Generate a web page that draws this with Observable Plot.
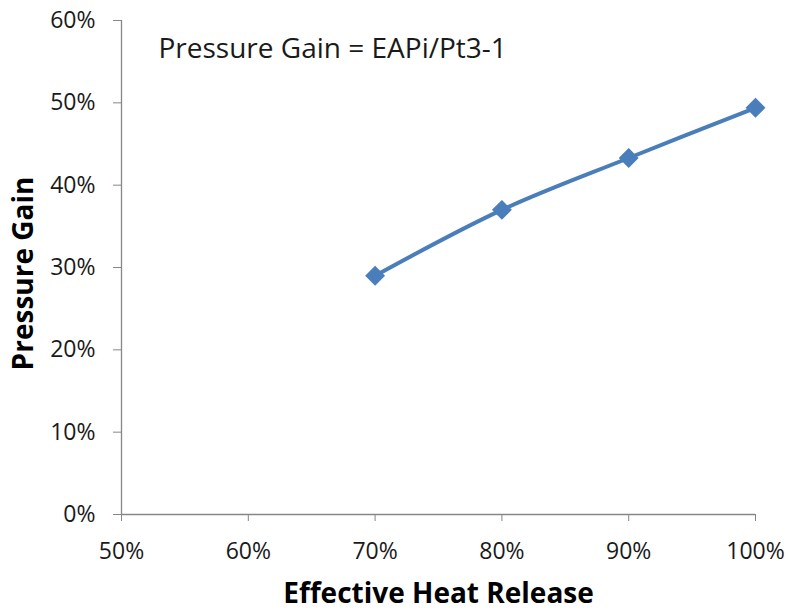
<!DOCTYPE html>
<html>
<head>
<meta charset="utf-8">
<script src="https://cdn.jsdelivr.net/npm/d3@7"></script>
<script src="https://cdn.jsdelivr.net/npm/@observablehq/plot@0.6"></script>
<style>
  html, body { margin: 0; padding: 0; background: #fff; }
  #chart svg { display: block; }
</style>
</head>
<body>
<div id="chart"></div>
<script>
// Data
const heatRelease = [0.70, 0.80, 0.90, 1.00];
const pressureGain = [0.290, 0.370, 0.433, 0.494];
const xTicks = [0.5, 0.6, 0.7, 0.8, 0.9, 1.0];
const yTicks = [0, 0.1, 0.2, 0.3, 0.4, 0.5, 0.6];
const xLabel = "Effective Heat Release";
const yLabel = "Pressure Gain";
const annotation = "Pressure Gain = EAPi/Pt3-1";

const data = heatRelease.map((x, i) => ({x, y: pressureGain[i]}));
const axisColor = "#868686";
const lineColor = "#4A7EBB";
const font = "'Open Sans', sans-serif";

const chart = Plot.plot({
  width: 788,
  height: 611,
  marginLeft: 121,
  marginRight: 33,
  marginTop: 20,
  marginBottom: 97,
  style: {fontFamily: font, fontSize: "23px", color: "#1a1a1a", background: "#fff"},
  x: {domain: [0.5, 1.0]},
  y: {domain: [0, 0.6]},
  marks: [
    Plot.axisX({ticks: xTicks, tickFormat: d3.format(".0%"), tickSize: 7, tickPadding: 21, stroke: axisColor, label: null, fontSize: 23, fill: "#1a1a1a"}),
    Plot.axisY({ticks: yTicks, tickFormat: d3.format(".0%"), tickSize: 8, tickPadding: 18, stroke: axisColor, label: null, fontSize: 23, fill: "#1a1a1a"}),
    Plot.ruleX([0.5], {stroke: axisColor, strokeWidth: 1.3}),
    Plot.ruleY([0], {stroke: axisColor, strokeWidth: 1.3}),
    Plot.line(data, {x: "x", y: "y", stroke: lineColor, strokeWidth: 4, curve: "catmull-rom"}),
    Plot.dot(data, {x: "x", y: "y", symbol: "diamond2", r: 8, fill: lineColor, stroke: lineColor}),
    Plot.text([yLabel], {text: d => d, frameAnchor: "left", dx: -97, dy: 6, rotate: -90, fontSize: 28, fontWeight: "bold", fill: "#000", textAnchor: "middle", lineAnchor: "middle"}),
    Plot.text([xLabel], {text: d => d, frameAnchor: "bottom", dy: 80, fontSize: 28, fontWeight: "bold", fill: "#000", textAnchor: "middle", lineAnchor: "middle"}),
    Plot.text([annotation], {text: d => d, frameAnchor: "top-left", dx: 37, dy: 29, fontSize: 28, fill: "#1a1a1a", textAnchor: "start", lineAnchor: "middle"})
  ]
});
document.getElementById("chart").appendChild(chart);
</script>
</body>
</html>
